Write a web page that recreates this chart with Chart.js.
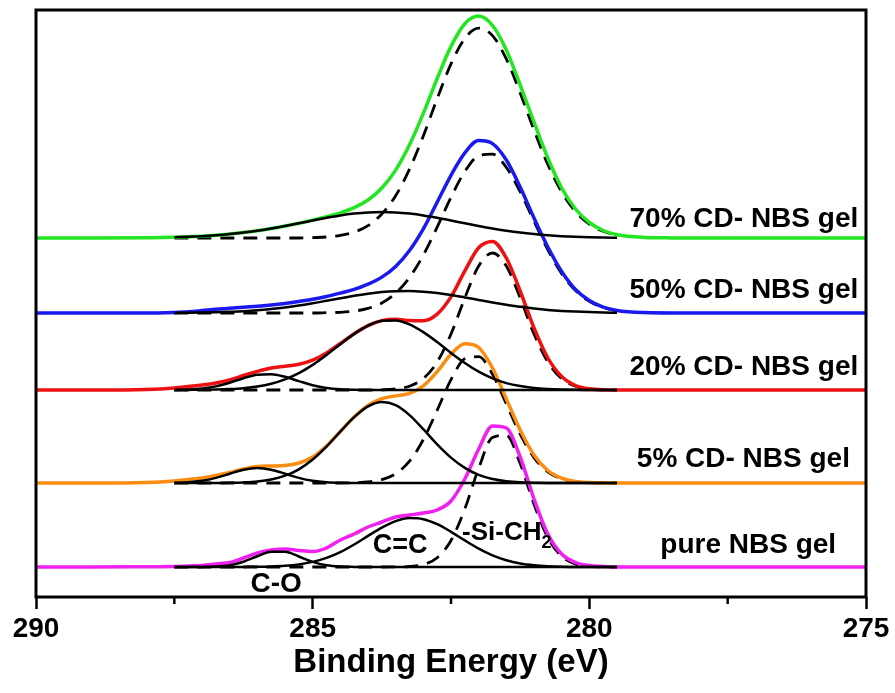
<!DOCTYPE html>
<html>
<head>
<meta charset="utf-8">
<script src="https://cdn.jsdelivr.net/npm/chart.js@4.4.1/dist/chart.umd.min.js"></script>
<style>
  html, body { margin: 0; padding: 0; background: #fff; }
  #wrap { width: 895px; height: 693px; }
</style>
</head>
<body>
<div id="wrap"><canvas id="c" width="895" height="693"></canvas></div>
<script>
// ---------- data (binding energy in eV, intensity in arbitrary units) ----------
const ENERGY = [290,289,288,287.5,287.25,287,286.75,286.5,286.25,286,285.75,285.5,285.25,285,284.75,284.5,284.25,284,283.75,283.5,283.25,283,282.75,282.5,282.25,282,281.75,281.5,281.25,281,280.75,280.5,280.25,280,279.75,279.5,279,278.5,278,277,276,275];
const ENERGY_FIT = [287.5,287.25,287,286.75,286.5,286.25,286,285.75,285.5,285.25,285,284.75,284.5,284.25,284,283.75,283.5,283.25,283,282.75,282.5,282.25,282,281.75,281.5,281.25,281,280.75,280.5,280.25,280,279.75,279.5];

const SERIES_NAMES = ['pure NBS gel', '5% CD- NBS gel', '20% CD- NBS gel', '50% CD- NBS gel', '70% CD- NBS gel'];
const OFFSETS = [30, 114, 207, 284, 359];

// measured spectra (envelope)
const PURE = [0,0,0.3, 0.5,1,1.5,3,4.5,9,14,17,18,16.5,15.5,19,27,33,40,45,50,52,54,57,66,88,118,141,139,110,68,33,13,4.5,1.5,0.5,0, 0,0,0,0,0,0];
const CD5  = [0,0,0.5, 2,3.5,5,7.5,10.5,14,16.5,17,17.5,20,26,37,51.6,66,77.6,84.4,87.1,89.7,97.2,111.4,128.7,139.3,135.5,115,84,53,28,12.5,4.8,1.5,0.4,0,0, 0,0,0,0,0,0];
const CD20 = [0,0,0.5, 2,3.5,5,7,10,14.5,18.6,22,23.8,25.7,29.9,37.1,46.5,56.3,64.4,69.4,70.7,69.5,69.3,75.9,93.1,119.1,142.3,148.6,132,99,62,32,13.5,4.5,1.3,0.2,0, 0,0,0,0,0,0];
const CD50 = [0,0,0, 0.6,1.2,2.4,3.7,4.7,5.8,6.7,8.0,9.6,11.5,13.7,16.5,19.9,23.6,28.9,35.9,46.6,62.5,84.2,110.8,137.7,160.1,172.4,169.4,153,126,95,66,41.5,23.5,12.5,5.9,2.6, 0.4,0,0,0,0,0];
const CD70 = [0,0,0.2, 0.8,1.2,1.8,2.7,3.9,5.4,7.3,9.5,12.0,14.7,17.9,21.2,25.2,30.3,38.0,50.0,67.9,93.2,124.7,159.5,191.6,214.3,221.9,212.5,188,153,116,80,50,29,15.5,7.5,3.3, 0.6,0.1,0,0,0,0];

// fitted components (C-O, C=C, -Si-CH2)
const PURE_CO = [0,0,0.1,0.4,1.8,5.3,10.8,15.3,15.2,10.5,5.1,1.7,0.4,0.1,0,0,0,0,0,0,0,0,0,0,0,0,0,0,0,0,0,0,0];
const PURE_CC = [0,0,0,0,0,0.1,0.2,0.5,1.2,2.6,5.1,9.1,14.9,22.5,31.1,39.4,45.9,48.9,47.8,42.8,35.2,26.6,18.4,11.7,6.8,3.6,1.8,0.8,0.3,0.1,0,0,0];
const PURE_SI = [0,0,0,0,0,0,0,0,0,0,0,0,0,0,0,0,0.1,0.5,2.5,9.3,26.5,58.1,98.7,129.6,131.7,103.4,62.8,29.4,10.7,3.0,0.7,0.1,0];

const CD5_CO = [0.2,0.7,2.2,5.1,9.3,13.3,15,13.3,9.3,5.1,2.2,0.7,0.2,0,0,0,0,0,0,0,0,0,0,0,0,0,0,0,0,0,0,0,0];
const CD5_CC = [0,0,0,0.1,0.2,0.6,1.5,3.5,7.3,13.7,23.5,36.4,51.4,65.8,76.6,81,77.8,67.9,53.8,38.7,25.4,15.1,8.1,4.0,1.8,0.7,0.3,0.1,0,0,0,0,0];
const CD5_SI = [0,0,0,0,0,0,0,0,0,0,0,0,0,0.3,1.0,3.4,9.3,21.8,43.4,72.7,103.3,124.2,126.3,108.7,79.1,48.8,25.4,11.2,4.2,1.3,0.4,0.1,0];

const CD20_CO = [0.1,0.5,1.5,3.6,7.3,11.8,15.2,15.8,13.2,8.9,4.8,2.1,0.7,0.2,0,0,0,0,0,0,0,0,0,0,0,0,0,0,0,0,0,0,0];
const CD20_CC = [0,0.1,0.2,0.4,0.9,1.8,3.4,6.2,10.6,16.8,25.1,35.0,45.8,56.1,64.4,69.2,69.6,65.7,57.9,48.0,37.1,27.0,18.3,11.6,6.9,3.9,2.0,1.0,0.5,0.2,0.1,0,0];
const CD20_SI = [0,0,0,0,0,0,0,0,0,0,0,0,0,0,0,0.2,1.1,3.8,11.4,27.9,56.0,92.1,124.0,137,124.0,92.1,56.0,27.9,11.4,3.8,1.1,0.2,0];

const CD50_CC = [0.1,0.2,0.4,0.7,1.2,1.8,2.7,4.0,5.6,7.5,9.7,12.2,14.7,17.2,19.3,20.9,21.8,22.0,21.3,19.9,18.0,15.6,13.1,10.6,8.3,6.2,4.5,3.1,2.1,1.4,0.9,0.5,0.3];
const CD50_SI = [0,0,0,0,0,0,0,0,0,0,0,0.3,0.7,1.9,4.6,10.0,19.8,35.5,57.9,85.9,115.7,141.5,157.3,158.8,145.6,121.3,91.8,63.2,39.4,22.4,11.6,5.4,2.3];

const CD70_CC = [0.8,1.2,1.8,2.7,3.9,5.4,7.3,9.5,12.0,14.7,17.5,20.2,22.6,24.4,25.6,26,25.6,24.4,22.6,20.2,17.5,14.7,12.0,9.5,7.3,5.4,3.9,2.7,1.8,1.2,0.8,0.5,0.3];
const CD70_SI = [0,0,0,0,0,0,0,0,0,0,0.4,1.0,2.6,5.9,12.4,24.0,42.3,68.8,102.1,139.3,174.1,199.6,209.9,202.4,179.0,145.1,107.9,73.5,46.0,26.4,13.9,6.7,3.0];

const X_TICKS_MINOR = [287.5, 282.5, 277.5];

// ---------- styles ----------
const COLORS = ['#f020f0', '#fb8c12', '#ee1111', '#1a1aee', '#22e622'];
const FONT = '"Liberation Sans", Arial, Helvetica, sans-serif';

const ANNOTATIONS = [
  { text: '70% CD- NBS gel', e: 275.14, v: 370, align: 'right', size: 28 },
  { text: '50% CD- NBS gel', e: 275.14, v: 299, align: 'right', size: 28 },
  { text: '20% CD- NBS gel', e: 275.14, v: 222, align: 'right', size: 28 },
  { text: '5% CD- NBS gel',  e: 275.29, v: 130, align: 'right', size: 28 },
  { text: 'pure NBS gel',    e: 275.54, v: 44,  align: 'right', size: 28 },
  { text: 'C=C',             e: 283.42, v: 44,  align: 'center', size: 27 },
  { text: 'C-O',             e: 285.66, v: 5,   align: 'center', size: 28 },
  { text: '-Si-CH', sub: '2', e: 282.30, v: 57, align: 'left', size: 26 }
];

// ---------- datasets ----------
const measured = [PURE, CD5, CD20, CD50, CD70];
const components = [
  { solid: [PURE_CO, PURE_CC], dashed: PURE_SI },
  { solid: [CD5_CO, CD5_CC], dashed: CD5_SI },
  { solid: [CD20_CO, CD20_CC], dashed: CD20_SI },
  { solid: [CD50_CC], dashed: CD50_SI },
  { solid: [CD70_CC], dashed: CD70_SI }
];

const datasets = [];
measured.forEach((vals, s) => {
  datasets.push({
    label: SERIES_NAMES[s],
    data: ENERGY.map((e, i) => ({ x: e, y: OFFSETS[s] + vals[i] })),
    borderColor: COLORS[s],
    borderWidth: 3.5,
    pointRadius: 0,
    cubicInterpolationMode: 'monotone',
    order: 1
  });
  components[s].solid.forEach(arr => {
    datasets.push({
      label: SERIES_NAMES[s] + ' comp',
      data: ENERGY_FIT.map((e, i) => ({ x: e, y: OFFSETS[s] + arr[i] })),
      borderColor: '#000',
      borderWidth: 2.5,
      pointRadius: 0,
      cubicInterpolationMode: 'monotone',
      order: 0
    });
  });
  datasets.push({
    label: SERIES_NAMES[s] + ' Si-CH2',
    data: ENERGY_FIT.map((e, i) => ({ x: e, y: OFFSETS[s] + components[s].dashed[i] })),
    borderColor: '#000',
    borderWidth: 2.8,
    borderDash: [14, 9],
    pointRadius: 0,
    cubicInterpolationMode: 'monotone',
    order: 2
  });
});

// ---------- plugins ----------
const framePlugin = {
  id: 'frame',
  afterDraw(chart) {
    const { ctx, chartArea: a, scales } = chart;
    ctx.save();
    ctx.strokeStyle = '#000';
    ctx.lineWidth = 3;
    ctx.strokeRect(a.left, a.top, a.right - a.left, a.bottom - a.top);
    ctx.lineWidth = 2.5;
    X_TICKS_MINOR.forEach(e => {
      const px = scales.x.getPixelForValue(e);
      ctx.beginPath();
      ctx.moveTo(px, a.bottom);
      ctx.lineTo(px, a.bottom + 7);
      ctx.stroke();
    });
    ctx.restore();
  }
};

const labelPlugin = {
  id: 'labels',
  afterDraw(chart) {
    const { ctx, scales } = chart;
    ctx.save();
    ctx.fillStyle = '#000';
    ctx.textBaseline = 'alphabetic';
    ANNOTATIONS.forEach(a => {
      const px = scales.x.getPixelForValue(a.e);
      const py = scales.y.getPixelForValue(a.v);
      ctx.font = 'bold ' + a.size + 'px ' + FONT;
      ctx.textAlign = a.align;
      ctx.fillText(a.text, px, py);
      if (a.sub) {
        const w = ctx.measureText(a.text).width;
        ctx.font = 'bold ' + Math.round(a.size * 0.7) + 'px ' + FONT;
        ctx.textAlign = 'left';
        ctx.fillText(a.sub, px + w, py + 8);
      }
    });
    ctx.restore();
  }
};

new Chart(document.getElementById('c'), {
  type: 'line',
  data: { datasets },
  options: {
    responsive: false,
    animation: false,
    events: [],
    layout: { padding: { left: 36, right: 29, top: 10, bottom: 0 } },
    plugins: { legend: { display: false }, tooltip: { enabled: false } },
    scales: {
      x: {
        type: 'linear',
        reverse: true,
        min: 275,
        max: 290,
        afterFit(scale) { scale.height = 96; },
        border: { display: false },
        grid: { display: true, drawOnChartArea: false, drawTicks: true, tickLength: 12, tickWidth: 2.5, tickColor: '#000', color: '#000' },
        ticks: { stepSize: 5, color: '#000', padding: 3, maxRotation: 0, font: { family: FONT, size: 28, weight: 'bold' } },
        title: { display: true, text: 'Binding Energy (eV)', color: '#000', padding: { top: 0, bottom: 10 }, font: { family: FONT, size: 33, weight: 'bold' } }
      },
      y: {
        type: 'linear',
        display: false,
        min: 0,
        max: 587
      }
    }
  },
  plugins: [framePlugin, labelPlugin]
});
</script>
</body>
</html>
